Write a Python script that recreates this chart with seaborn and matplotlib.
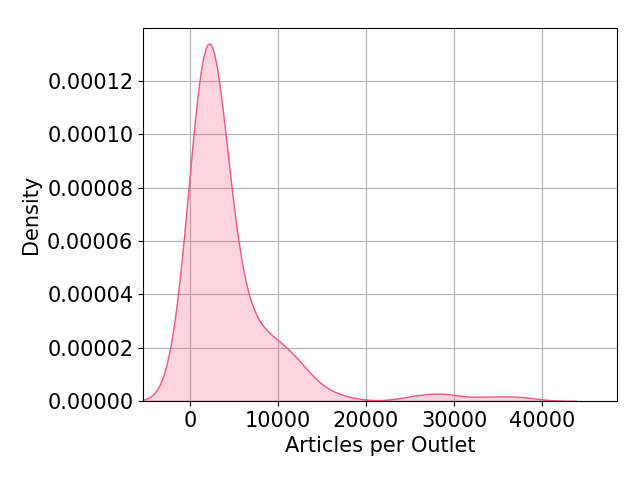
import numpy as np
import pandas as pd
import matplotlib
matplotlib.use("Agg")
import matplotlib.pyplot as plt
import seaborn as sns

# -----------------------------
# Data: articles per outlet (value, number of outlets)
# -----------------------------
articles = [1000, 1500, 2000, 2500, 3000, 3500, 4500, 5500, 6500, 7500,
            8500, 9500, 10500, 11500, 12500, 13500, 14500, 17000,
            25500, 28000, 29500, 34000, 37500]
outlets = [10, 28, 35, 26, 12, 1, 3, 5, 7, 4,
           3, 4, 4, 3, 3, 1, 1, 1,
           1, 1, 1, 1, 1]

df = pd.DataFrame({'Articles per Outlet': np.repeat(articles, outlets)})

# -----------------------------
# Plot
# -----------------------------
plt.rcParams['font.size'] = 15
plt.rcParams['font.family'] = ['DejaVu Sans']

fig, ax = plt.subplots(figsize=(6.4, 4.8), dpi=100)
sns.kdeplot(data=df, x='Articles per Outlet', fill=True, color='#f0567e', ax=ax)
ax.grid(True)
ax.set_axisbelow(True)
ax.set_xlim(-5350, 48500)
ax.set_ylim(0, 0.0001398)
ax.set_xlabel("Articles per Outlet")
ax.set_ylabel("Density")
fig.subplots_adjust(left=0.2234, right=0.964, top=0.9417, bottom=0.1646)
fig.savefig("out.png")
